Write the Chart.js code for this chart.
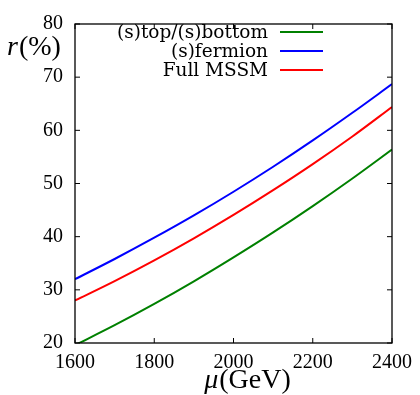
<!DOCTYPE html>
<html>
<head>
<meta charset="utf-8">
<script src="https://cdn.jsdelivr.net/npm/chart.js@4/dist/chart.umd.min.js"></script>
<style>
  html, body { margin: 0; padding: 0; background: #fff; }
  #wrap { width: 420px; height: 395px; position: relative; }
</style>
</head>
<body>
<div id="wrap"><canvas id="c" width="420" height="395"></canvas></div>
<script>
// values
const mu = [1600, 1700, 1800, 1900, 2000, 2100, 2200, 2300, 2400];
const stopSbottom = [19.6, 23.35, 27.35, 31.6, 36.1, 40.8, 45.75, 50.95, 56.4];
const sfermion = [32.0, 35.8, 39.8, 44.0, 48.45, 53.15, 58.1, 63.3, 68.7];
const fullMSSM = [28.0, 31.65, 35.55, 39.7, 44.1, 48.75, 53.65, 58.85, 64.4];
const xTicks = [1600, 1800, 2000, 2200, 2400];
const yTicks = [20, 30, 40, 50, 60, 70, 80];

const seriesNames = ['(s)top/(s)bottom', '(s)fermion', 'Full MSSM'];
const seriesColors = ['#008000', '#0000ff', '#ff0000'];
const seriesData = [stopSbottom, sfermion, fullMSSM];

const SERIF = '"Liberation Serif", "DejaVu Serif", serif';
const WIDE_SERIF = '"DejaVu Serif", "Liberation Serif", serif';

// frame, inward ticks, legend and axis titles
const decor = {
  id: 'decor',
  afterDatasetsDraw(chart){
    const {ctx, chartArea: a, scales} = chart;
    ctx.save();
    ctx.strokeStyle = '#000';
    ctx.lineWidth = 1.3;
    ctx.strokeRect(a.left, a.top, a.right - a.left, a.bottom - a.top);
    const tl = 5;
    ctx.lineWidth = 1;
    ctx.beginPath();
    for(const v of xTicks){
      const x = scales.x.getPixelForValue(v);
      ctx.moveTo(x, a.bottom); ctx.lineTo(x, a.bottom - tl);
      ctx.moveTo(x, a.top); ctx.lineTo(x, a.top + tl);
    }
    for(const v of yTicks){
      const y = scales.y.getPixelForValue(v);
      ctx.moveTo(a.left, y); ctx.lineTo(a.left + tl, y);
      ctx.moveTo(a.right, y); ctx.lineTo(a.right - tl, y);
    }
    ctx.stroke();

    // legend
    ctx.font = '18.5px ' + WIDE_SERIF;
    ctx.textAlign = 'right';
    ctx.textBaseline = 'alphabetic';
    ctx.fillStyle = '#000';
    seriesNames.forEach((name, i) => {
      const yc = 32 + i * 19;
      ctx.fillText(name, 268, yc + 6);
      ctx.strokeStyle = seriesColors[i];
      ctx.lineWidth = 2;
      ctx.beginPath(); ctx.moveTo(280, yc); ctx.lineTo(323, yc); ctx.stroke();
    });

    // axis titles
    ctx.textAlign = 'left';
    ctx.font = 'italic 28px ' + SERIF;
    ctx.fillText('r', 7, 55);
    const w = ctx.measureText('r').width;
    ctx.font = '28px ' + SERIF;
    ctx.fillText('(%)', 7 + w + 1, 55);

    ctx.font = 'italic 28px ' + SERIF;
    const m1 = ctx.measureText('μ').width;
    ctx.font = '28px ' + SERIF;
    const m2 = ctx.measureText('(GeV)').width;
    const cx = 247 - (m1 + m2) / 2;
    ctx.font = 'italic 28px ' + SERIF;
    ctx.fillText('μ', cx, 388);
    ctx.font = '28px ' + SERIF;
    ctx.fillText('(GeV)', cx + m1 + 1, 388);
    ctx.restore();
  }
};

new Chart(document.getElementById('c'), {
  type: 'line',
  data: {
    datasets: seriesData.map((d, i) => ({
      label: seriesNames[i],
      data: mu.map((x, j) => ({x, y: d[j]})),
      borderColor: seriesColors[i],
      borderWidth: 2,
      pointRadius: 0,
      cubicInterpolationMode: 'monotone',
      fill: false
    }))
  },
  options: {
    responsive: false,
    animation: false,
    layout: { padding: { left: 0, top: 17, right: 26, bottom: 0 } },
    plugins: { legend: { display: false }, tooltip: { enabled: false } },
    scales: {
      x: {
        type: 'linear', min: 1600, max: 2400,
        afterBuildTicks: s => { s.ticks = xTicks.map(v => ({value: v})); },
        afterFit: s => { s.height = 52; },
        grid: { display: false, drawTicks: false },
        border: { display: false },
        ticks: { color: '#000', padding: 8, maxRotation: 0, callback: v => String(v), font: { family: SERIF, size: 20 } }
      },
      y: {
        type: 'linear', min: 20, max: 80,
        afterBuildTicks: s => { s.ticks = yTicks.map(v => ({value: v})); },
        afterFit: s => { s.width = 75; },
        grid: { display: false, drawTicks: false },
        border: { display: false },
        ticks: { color: '#000', padding: 12, callback: v => String(v), font: { family: SERIF, size: 20 } }
      }
    }
  },
  plugins: [decor]
});
</script>
</body>
</html>
